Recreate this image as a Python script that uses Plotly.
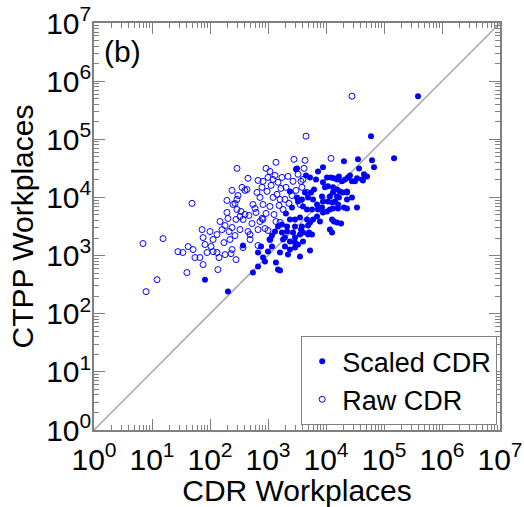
import plotly.graph_objects as go

# ---- data ----
raw_cdr_x = [7.9, 12.2, 7.0, 15.5, 40, 49, 28, 34, 42, 51, 55, 76, 137, 82, 104, 76, 113, 100, 132, 161,
             213, 270, 329, 182, 240, 149, 204, 281, 371, 820, 452, 490, 673, 1000, 401, 470, 292, 342, 270, 292,
             240, 435, 292, 452, 646, 728, 820, 1080, 1220, 962, 1430, 1610, 820, 1000, 1220, 1490, 1740, 925, 1370, 2210,
             2700, 3290, 4010, 2800, 4350, 4520, 28000, 1270, 925, 597, 1820, 2300, 3560, 2590, 2040, 3040, 3850, 4700, 356, 304,
             551, 621, 1370, 673, 1080, 113, 174, 143, 230, 371, 281, 67, 530, 728, 221, 12200, 4180, 1610, 887, 89,
             196, 250, 196, 329, 789, 401, 132, 182, 240, 490, 789, 1130, 1320, 1670, 673, 1080, 1960, 3710, 1550, 73]
raw_ctpp_y = [240, 385, 1610, 1960, 510, 7900, 1170, 1130, 1430, 1270, 925, 700, 574, 1550, 1430, 2040, 1890, 2590, 2300, 2800,
              2590, 2210, 2800, 3290, 3040, 3850, 4350, 4180, 4180, 4180, 2590, 1890, 2800, 2700, 5090, 4900, 6210, 5740, 7890, 9250,
              13200, 13700, 31600, 21300, 12200, 10000, 7570, 7000, 10000, 12700, 11300, 9250, 18900, 22100, 20400, 18200, 22100, 31600, 40100, 23000,
              18900, 25000, 20400, 45200, 43400, 113000, 551000, 5090, 5300, 6460, 6210, 7890, 7570, 10800, 14900, 13200, 14900, 12200, 14900, 10800,
              7570, 5510, 3850, 1490, 1890, 1170, 1670, 925, 1080, 1370, 853, 925, 3560, 3850, 1890, 47000, 31600, 3710, 2920, 1130,
              8870, 7570, 5510, 4700, 4350, 13200, 1130, 1040, 1270, 2300, 14900, 16100, 23900, 14300, 19600, 28000, 9250, 18900, 7280, 2800]

scaled_cdr_x = [386000, 59700, 20400, 35600, 62100, 149000, 37100, 67300, 45200, 25900, 43400, 31600, 8870, 5300, 3160, 2390, 4350, 6210, 23000, 20400,
                13700, 18200, 11700, 12700, 5300, 3710, 5090, 2920, 10400, 12200, 13700, 15500, 16700, 18900, 21300, 23900, 28000, 34200, 41800, 50900,
                8870, 9620, 10800, 13200, 15500, 17400, 19600, 23000, 13200, 11700, 15500, 8530, 8870, 10800, 12700, 14300, 16700, 16100, 23000, 28000,
                3160, 3290, 3850, 4900, 5970, 7000, 5740, 4700, 4010, 7280, 8530, 8870, 10400, 11700, 13200, 16100, 23000, 34200, 2390, 2920,
                3560, 4700, 5970, 7000, 7890, 12700, 15500, 2130, 2920, 3850, 4900, 1740, 1740, 1960, 2700, 2920, 3560, 4010, 4900, 5740,
                2390, 2920, 3290, 4010, 1960, 2390, 3560, 5300, 1610, 1610, 82, 204, 551, 371, 757, 673, 1000, 1170, 820, 1370,
                1490, 1080, 1320, 1490, 1820, 2210, 2130, 1170, 3040, 4520, 7280, 6730, 5510, 2040, 2590, 887, 673]
scaled_ctpp_y = [551000, 113000, 41800, 45200, 43400, 47000, 31600, 32900, 25000, 23900, 19600, 18900, 32900, 22100, 31600, 12700, 12200, 13700, 12200, 6730,
                 3850, 3560, 2800, 2490, 3710, 2800, 2490, 1370, 22100, 22100, 21300, 20400, 23000, 18900, 20400, 22100, 18900, 21300, 20400, 23000,
                 18200, 14900, 15500, 14900, 13700, 12700, 12200, 12700, 12200, 10400, 10400, 10400, 8530, 8530, 8200, 8530, 10000, 7570, 9250, 10000,
                 10000, 8530, 9250, 10000, 9250, 7570, 6210, 6210, 7000, 6210, 6730, 5510, 5740, 6210, 6460, 6460, 6460, 6730, 4180, 4180,
                 4520, 4180, 4180, 4700, 3850, 4180, 3710, 3160, 3160, 3160, 3290, 3420, 2490, 2040, 2490, 2040, 2300, 2490, 2300, 2300,
                 1740, 1670, 1550, 1740, 1430, 1270, 962, 1220, 1130, 551, 385, 240, 510, 1490, 1430, 1130, 1170, 1430, 925, 757,
                 574, 1890, 2590, 3160, 1890, 1040, 2590, 2210, 30400, 23900, 28000, 20400, 12200, 5300, 6730, 789, 646]

decades = [1, 10, 100, 1000, 10000, 100000, 1000000, 10000000]
decade_labels = ["10<sup>0</sup>", "10<sup>1</sup>", "10<sup>2</sup>", "10<sup>3</sup>",
                 "10<sup>4</sup>", "10<sup>5</sup>", "10<sup>6</sup>", "10<sup>7</sup>"]
diag = [1, 10000000]

FONT = "Liberation Sans, Arial, sans-serif"
BLUE = "#0000ff"
AXC = "#808080"

fig = go.Figure()
fig.add_trace(go.Scatter(x=diag, y=diag, mode="lines", line=dict(color="#a8a8a8", width=1.5),
                         showlegend=False, hoverinfo="skip"))
fig.add_trace(go.Scatter(x=raw_cdr_x, y=raw_ctpp_y, mode="markers", name="Raw CDR",
                         marker=dict(symbol="circle-open", size=6, color=BLUE, line=dict(width=1, color=BLUE))))
fig.add_trace(go.Scatter(x=scaled_cdr_x, y=scaled_ctpp_y, mode="markers", name="Scaled CDR",
                         marker=dict(symbol="circle", size=6, color=BLUE)))

axis_common = dict(
    type="log", range=[0, 7], tickvals=decades, ticktext=decade_labels,
    ticks="inside", ticklen=11, tickcolor=AXC, tickwidth=1,
    showline=True, linecolor=AXC, linewidth=1.5, mirror="allticks",
    showgrid=False, zeroline=False, automargin=False,
    tickfont=dict(family=FONT, size=30, color="black"),
    minor=dict(ticks="inside", ticklen=5, tickcolor=AXC, dtick="D1", showgrid=False),
)

fig.update_layout(
    width=524, height=507,
    margin=dict(l=94, r=24, t=23, b=77),
    paper_bgcolor="white", plot_bgcolor="white",
    font=dict(family=FONT, color="black"),
    xaxis=dict(axis_common, ticklabelstandoff=2,
               title=dict(text="CDR Workplaces", font=dict(family=FONT, size=30), standoff=0)),
    yaxis=dict(axis_common, ticklabelstandoff=-5,
               title=dict(text="CTPP Workplaces", font=dict(family=FONT, size=30), standoff=4)),
    legend=dict(x=0.993, y=0.012, xanchor="right", yanchor="bottom",
                bordercolor=AXC, borderwidth=1, bgcolor="white",
                font=dict(family=FONT, size=27, color="black"),
                traceorder="reversed", itemsizing="trace",
                tracegroupgap=0, itemwidth=30),
    showlegend=True,
    annotations=[dict(text="(b)", x=0.02, y=0.929, xref="paper", yref="paper",
                      xanchor="left", yanchor="middle", showarrow=False,
                      font=dict(family=FONT, size=30, color="black"))],
)

fig.write_html("out.html")
